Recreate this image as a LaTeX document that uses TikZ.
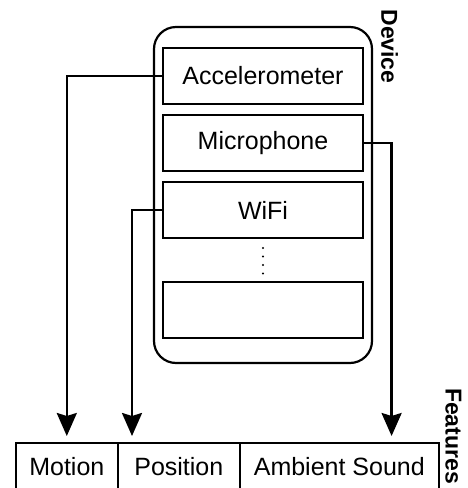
\documentclass[tikz,border=0pt]{standalone}
\usepackage{fontspec}
\setmainfont{Liberation Sans}
\usetikzlibrary{arrows.meta,calc}
\begin{document}
\begin{tikzpicture}[x=1pt,y=-1pt,
  sensor/.style={draw,line width=1.6pt,minimum width=200pt,minimum height=56pt,inner sep=0pt,font=\fontsize{25}{30}\selectfont},
  cell/.style={draw,line width=1.6pt,minimum height=48pt,inner sep=0pt,anchor=north west,font=\fontsize{25}{30}\selectfont},
  arr/.style={line width=2.5pt,-{Stealth[length=23pt,width=20pt,inset=3pt]}},
  lbl/.style={font=\bfseries\fontsize{23}{27}\selectfont,rotate=-90,inner sep=0pt}]
\useasboundingbox (0,0) rectangle (468,488);
\node[draw,line width=2.2pt,rounded corners=22pt,minimum width=218pt,minimum height=336pt,inner sep=0pt] (device) at (263,195) {};
\node[sensor] (acc) at (263,76) {Accelerometer};
\node[sensor] (mic) at (263,143) {Microphone};
\node[sensor] (wifi) at (263,210) {WiFi};
\node[sensor] (blank) at (263,310) {};
\foreach \yy in {248,256.5,265,273.5} \fill (263,\yy) circle (1.1pt);
\node[lbl] (devlbl) at (389.5,46.5) {Device};
\node[cell,minimum width=102pt] (motion) at (15,442) {Motion};
\node[cell,minimum width=122pt] (position) at (117,442) {Position};
\node[cell,minimum width=199pt] (ambient) at (239,442) {Ambient Sound};
\node[lbl] (featlbl) at (453.5,436) {Features};
\draw[arr] (acc.west) -| ([yshift=6pt]motion.north);
\draw[arr] (wifi.west) -| ($(position.north west)+(15pt,6pt)$);
\draw[arr] (mic.east) -| ($(ambient.north east)+(-48pt,6pt)$);
\end{tikzpicture}
\end{document}
